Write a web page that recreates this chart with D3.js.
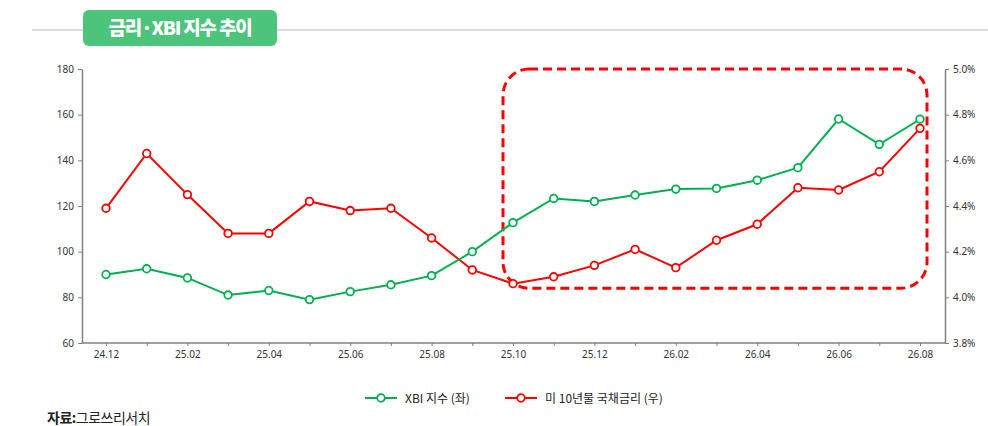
<!DOCTYPE html>
<html>
<head>
<meta charset="utf-8">
<script src="https://cdn.jsdelivr.net/npm/d3@7"></script>
<style>
  html, body { margin: 0; padding: 0; background: #fff; }
  svg { display: block; font-family: "Noto Sans CJK KR", "Noto Sans", sans-serif; }
</style>
</head>
<body>
<div id="chart"></div>
<script>
const months = ['24.12', '25.01', '25.02', '25.03', '25.04', '25.05', '25.06', '25.07', '25.08', '25.09',
  '25.10', '25.11', '25.12', '26.01', '26.02', '26.03', '26.04', '26.05', '26.06', '26.07', '26.08']
const xbi = [90, 92.5, 88.5, 81, 83, 79, 82.5, 85.5, 89.5, 100, 112.7, 123.3, 122, 124.8, 127.4, 127.7, 131.3, 136.8, 158.1, 147, 158]
const treasury = [4.39, 4.63, 4.45, 4.28, 4.28, 4.42, 4.38, 4.39, 4.26, 4.12, 4.06, 4.09, 4.14, 4.21, 4.13, 4.25, 4.32, 4.48, 4.47, 4.55, 4.74]
const leftTicks = [60, 80, 100, 120, 140, 160, 180]
const rightTicks = [3.8, 4.0, 4.2, 4.4, 4.6, 4.8, 5.0]
const labelMonths = months.filter((d, i) => i % 2 === 0)

const width = 988, height = 426
const green = '#00b050', red = '#ff0000'

const svg = d3.select('#chart').append('svg')
  .attr('width', width).attr('height', height)

// header
svg.append('line')
  .attr('x1', 32).attr('x2', width).attr('y1', 30).attr('y2', 30)
  .attr('stroke', '#dcdcdc').attr('stroke-width', 2)
svg.append('rect')
  .attr('x', 83).attr('y', 10).attr('width', 194).attr('height', 36).attr('rx', 6)
  .attr('fill', '#4dc47b')
svg.append('text')
  .attr('x', 180).attr('y', 35).attr('text-anchor', 'middle')
  .attr('fill', '#fff').attr('font-size', 19).attr('font-weight', 900)
  .attr('letter-spacing', -1.2)
  .text('금리·XBI 지수 추이')

const x = d3.scalePoint().domain(months).range([106, 920])
const yL = d3.scaleLinear().domain([60, 180]).range([343, 69])
const yR = d3.scaleLinear().domain([3.8, 5.0]).range([343, 69])

// axes
const axisColor = '#808080'
function styleAxis(g) {
  g.select('.domain').attr('stroke', axisColor).attr('stroke-width', 1.5)
  g.selectAll('.tick line').attr('stroke', axisColor)
  g.selectAll('.tick text').attr('fill', '#333').attr('font-size', 10)
    .attr('font-family', '"Noto Sans", sans-serif')
}

svg.append('g')
  .attr('transform', 'translate(82,0)')
  .call(d3.axisLeft(yL).tickValues(leftTicks).tickSize(4).tickSizeOuter(0).tickPadding(4))
  .call(styleAxis)

svg.append('g')
  .attr('transform', 'translate(945,0)')
  .call(d3.axisRight(yR).tickValues(rightTicks).tickSize(4).tickSizeOuter(0).tickPadding(4)
    .tickFormat(d => d.toFixed(1) + '%'))
  .call(styleAxis)

const xAxis = svg.append('g')
  .attr('transform', 'translate(0,343)')
  .call(d3.axisBottom(x).tickSize(3).tickSizeOuter(0).tickPadding(5)
    .tickFormat(d => labelMonths.includes(d) ? d : ''))
  .call(styleAxis)
xAxis.select('.domain').attr('d', 'M82,0H945')

// highlight box around the recent rally
const bx0 = x('25.10') - 10, bx1 = x('26.08') + 7
const by0 = yL(180), by1 = yL(84)
svg.append('rect')
  .attr('x', bx0).attr('y', by0).attr('width', bx1 - bx0).attr('height', by1 - by0)
  .attr('rx', 26).attr('fill', 'none')
  .attr('stroke', red).attr('stroke-width', 3).attr('stroke-dasharray', '9,5')

// series
function drawSeries(values, scale, color) {
  const line = d3.line().x((d, i) => x(months[i])).y(d => scale(d))
  svg.append('path').datum(values)
    .attr('d', line).attr('fill', 'none')
    .attr('stroke', color).attr('stroke-width', 2)
  svg.append('g').selectAll('circle').data(values).join('circle')
    .attr('cx', (d, i) => x(months[i])).attr('cy', d => scale(d))
    .attr('r', 3.8).attr('fill', '#fff')
    .attr('stroke', color).attr('stroke-width', 1.8)
}
drawSeries(treasury, yR, red)
drawSeries(xbi, yL, green)

// legend
const legend = [
  { name: 'XBI 지수 (좌)', color: green, x: 365 },
  { name: '미 10년물 국채금리 (우)', color: red, x: 505 }
]
const lg = svg.append('g').selectAll('g').data(legend).join('g')
  .attr('transform', d => `translate(${d.x},398)`)
lg.append('line').attr('x1', 0).attr('x2', 32)
  .attr('stroke', d => d.color).attr('stroke-width', 2)
lg.append('circle').attr('cx', 16).attr('r', 3.8).attr('fill', '#fff')
  .attr('stroke', d => d.color).attr('stroke-width', 1.8)
lg.append('text').attr('x', 40).attr('y', 4.5)
  .attr('font-size', 12).attr('fill', '#222')
  .text(d => d.name)

// source
const src = svg.append('text').attr('x', 47).attr('y', 423).attr('font-size', 14).attr('fill', '#222')
  .attr('letter-spacing', -0.5)
src.append('tspan').attr('font-weight', 700).text('자료:')
src.append('tspan').text('그로쓰리서치')
</script>
</body>
</html>
